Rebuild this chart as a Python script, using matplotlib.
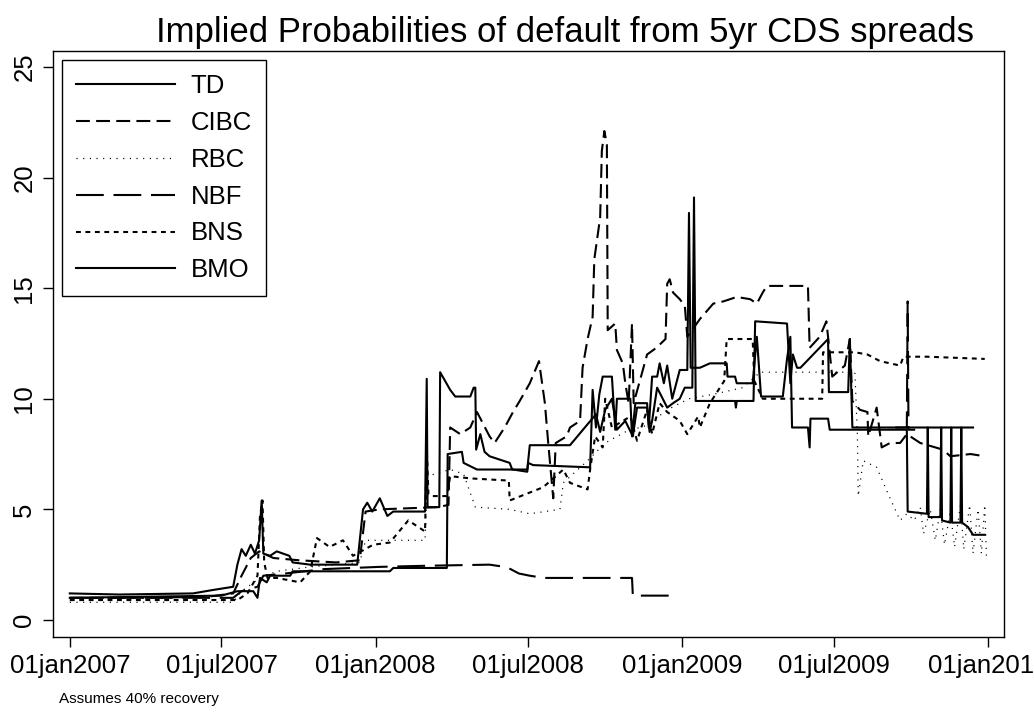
import numpy as np
import pandas as pd
import matplotlib
matplotlib.use("Agg")
import matplotlib.pyplot as plt

plt.rcParams['font.family'] = ['Liberation Sans', 'DejaVu Sans']
plt.rcParams['lines.scale_dashes'] = False

# ---- data (implied PD, %) ----
td_dates = ['2007-01-01', '2007-03-01', '2007-05-28', '2007-06-20', '2007-07-15', '2007-07-20',
            '2007-07-25', '2007-07-30', '2007-08-05', '2007-08-10', '2007-08-15', '2007-08-18',
            '2007-08-20', '2007-08-28', '2007-09-05', '2007-09-20', '2007-09-24', '2007-10-15',
            '2007-12-10', '2007-12-17', '2007-12-22', '2007-12-28', '2008-01-06', '2008-01-15',
            '2008-01-22', '2008-02-29', '2008-03-02', '2008-03-03', '2008-03-17', '2008-03-18',
            '2008-03-24', '2008-03-30', '2008-04-05', '2008-04-23', '2008-04-27', '2008-04-29',
            '2008-04-30', '2008-05-05', '2008-05-10', '2008-05-16', '2008-06-09', '2008-06-12',
            '2008-06-30', '2008-07-03', '2008-08-20', '2008-09-20', '2008-09-25', '2008-10-01',
            '2008-10-09', '2008-10-15', '2008-10-25', '2008-11-03', '2008-11-08', '2008-11-20',
            '2008-11-23', '2008-11-26', '2008-12-02', '2008-12-14', '2008-12-21', '2008-12-29',
            '2009-01-04', '2009-01-13', '2009-01-15', '2009-01-17', '2009-03-05', '2009-03-06',
            '2009-03-07', '2009-03-27', '2009-03-29', '2009-05-06', '2009-05-10', '2009-05-13',
            '2009-05-18', '2009-05-22', '2009-06-24', '2009-06-25', '2009-07-18', '2009-07-20',
            '2009-07-23', '2009-12-14']
td_vals = [1.2, 1.15, 1.2, 1.35, 1.5, 2.5,
           3.2, 2.9, 3.4, 3.0, 3.6, 5.4,
           3.0, 2.9, 3.1, 2.9, 2.6, 2.5,
           2.5, 5.0, 5.3, 4.9, 5.5, 4.7,
           4.9, 4.9, 10.9, 5.1, 5.1, 11.2,
           10.8, 10.4, 10.1, 10.1, 10.5, 10.5,
           7.7, 8.4, 7.6, 7.4, 7.1, 6.8,
           6.8, 7.9, 7.9, 9.3, 8.5, 9.5,
           10.0, 8.6, 9.0, 8.3, 9.6, 9.6,
           8.5, 9.0, 10.5, 9.6, 9.8, 10.0,
           10.5, 10.5, 19.1, 9.9, 9.9, 9.6,
           9.9, 9.9, 13.5, 13.4, 10.7, 12.0,
           11.4, 11.4, 12.7, 10.3, 10.3, 12.7,
           8.7, 8.7]

cibc_dates = ['2007-01-01', '2007-04-01', '2007-06-15', '2007-07-15', '2007-07-25', '2007-08-05',
              '2007-08-15', '2007-09-01', '2007-10-01', '2007-11-15', '2007-12-13', '2007-12-20',
              '2008-01-06', '2008-03-15', '2008-03-28', '2008-03-30', '2008-04-11', '2008-04-23',
              '2008-05-01', '2008-05-16', '2008-05-22', '2008-06-03', '2008-06-13', '2008-06-21',
              '2008-07-03', '2008-07-14', '2008-07-21', '2008-07-25', '2008-07-31', '2008-08-03',
              '2008-08-16', '2008-08-20', '2008-09-01', '2008-09-04', '2008-09-10', '2008-09-16',
              '2008-09-18', '2008-09-25', '2008-09-27', '2008-09-30', '2008-10-03', '2008-10-04',
              '2008-10-13', '2008-10-15', '2008-10-22', '2008-10-25', '2008-10-29', '2008-11-02',
              '2008-11-04', '2008-11-20', '2008-12-01', '2008-12-12', '2008-12-14', '2008-12-17',
              '2008-12-21', '2008-12-29', '2009-01-04', '2009-01-07', '2009-01-22', '2009-02-07',
              '2009-02-19', '2009-03-07', '2009-03-23', '2009-03-31', '2009-04-07', '2009-04-12',
              '2009-05-31', '2009-06-02', '2009-06-14', '2009-06-22', '2009-06-29', '2009-07-14',
              '2009-07-20', '2009-07-23', '2009-08-01', '2009-08-10', '2009-08-11', '2009-08-21',
              '2009-08-27', '2009-09-06', '2009-09-18', '2009-09-26', '2009-10-12', '2009-11-08',
              '2009-11-17', '2009-12-11', '2009-12-28']
cibc_vals = [1.0, 1.0, 1.05, 1.2, 2.0, 2.8,
             3.1, 2.8, 2.7, 2.6, 2.7, 4.9,
             5.0, 5.1, 5.2, 8.7, 8.4, 8.7,
             9.4, 8.3, 8.0, 8.7, 9.4, 9.9,
             10.7, 11.7, 9.8, 8.0, 5.5, 8.0,
             8.3, 8.7, 9.0, 11.4, 12.7, 13.7,
             16.3, 18.2, 21.2, 22.1, 21.5, 13.1,
             13.4, 12.2, 11.6, 10.7, 9.8, 13.4,
             9.8, 12.0, 12.3, 12.7, 15.2, 15.4,
             14.8, 14.5, 14.2, 12.8, 13.6, 14.3,
             14.4, 14.6, 14.5, 14.3, 14.8, 15.1,
             15.1, 12.3, 12.8, 13.5, 11.0, 11.5,
             12.7, 9.9, 9.5, 9.4, 8.3, 9.6,
             7.8, 8.0, 8.0, 8.4, 8.0, 7.7,
             7.4, 7.5, 7.4]

rbc_dates = ['2007-01-01', '2007-07-15', '2007-07-25', '2007-08-16', '2007-09-05', '2007-10-15',
             '2007-11-15', '2007-12-13', '2007-12-20', '2008-02-29', '2008-03-03', '2008-03-30',
             '2008-04-15', '2008-04-29', '2008-06-09', '2008-07-03', '2008-08-08', '2008-08-12',
             '2008-09-10', '2008-10-01', '2008-10-25', '2008-11-20', '2008-12-14', '2009-01-09',
             '2009-02-07', '2009-03-14', '2009-04-04', '2009-07-26', '2009-07-29', '2009-07-30',
             '2009-08-05', '2009-08-21', '2009-09-06', '2009-09-18', '2009-09-26', '2009-10-05',
             '2009-10-12', '2009-10-16', '2009-10-24', '2009-10-30', '2009-11-05', '2009-11-10',
             '2009-11-17', '2009-11-22', '2009-11-29', '2009-12-03', '2009-12-10', '2009-12-14',
             '2009-12-20', '2009-12-24', '2009-12-28', '2009-12-30']
rbc_vals = [0.8, 0.8, 1.3, 1.9, 2.2, 2.4,
            2.5, 2.6, 3.6, 3.6, 6.5, 6.8,
            6.6, 5.1, 5.0, 4.8, 5.0, 6.2,
            7.2, 8.0, 8.5, 8.8, 9.5, 10.0,
            10.2, 10.5, 11.2, 11.2, 8.4, 5.6,
            7.2, 6.9, 5.5, 4.5, 4.8, 4.5,
            5.1, 3.9, 5.0, 3.6, 5.0, 3.4,
            4.9, 3.3, 5.2, 3.2, 5.2, 3.0,
            5.0, 3.0, 5.2, 2.9]

nbf_dates = ['2007-01-01', '2007-07-15', '2007-07-25', '2007-08-13', '2007-08-20', '2007-09-15',
             '2007-11-01', '2008-01-06', '2008-03-01', '2008-05-16', '2008-06-03', '2008-06-10',
             '2008-06-20', '2008-07-03', '2008-07-20', '2008-11-02', '2008-11-03', '2008-12-17',
             '2009-06-01', '2009-09-12', '2009-09-26', '2009-09-27', '2009-09-28', '2009-10-06']
nbf_vals = [1.0, 1.0, 1.3, 1.5, 2.0, 2.1,
            2.3, 2.4, 2.45, 2.5, 2.4, 2.3,
            2.1, 2.0, 1.9, 1.9, 1.1, 1.1,
            np.nan, 8.7, 8.7, 14.4, 8.6, 8.6]

bns_dates = ['2007-01-01', '2007-07-20', '2007-08-01', '2007-08-13', '2007-08-16', '2007-08-19',
             '2007-08-21', '2007-08-25', '2007-09-05', '2007-10-03', '2007-10-15', '2007-10-23',
             '2007-11-07', '2007-11-23', '2007-12-05', '2007-12-29', '2008-01-18', '2008-02-09',
             '2008-02-29', '2008-03-02', '2008-03-04', '2008-03-08', '2008-03-26', '2008-03-30',
             '2008-04-23', '2008-06-08', '2008-06-09', '2008-07-19', '2008-08-12', '2008-08-20',
             '2008-09-10', '2008-09-13', '2008-09-19', '2008-09-28', '2008-10-01', '2008-10-09',
             '2008-10-31', '2008-11-08', '2008-11-20', '2008-11-26', '2008-12-05', '2008-12-14',
             '2008-12-29', '2009-01-07', '2009-01-20', '2009-01-22', '2009-02-03', '2009-02-20',
             '2009-02-23', '2009-03-26', '2009-03-28', '2009-04-07', '2009-06-17', '2009-06-18',
             '2009-07-26', '2009-08-10', '2009-08-25', '2009-09-18', '2009-09-22', '2009-10-20',
             '2009-12-28']
bns_vals = [0.9, 0.9, 1.2, 2.0, 4.7, 5.4,
            2.6, 1.9, 1.9, 1.7, 2.2, 3.7,
            3.3, 3.6, 2.9, 3.4, 3.5, 4.5,
            4.0, 7.8, 5.7, 5.6, 5.6, 6.5,
            6.4, 6.3, 5.4, 6.0, 6.8, 6.2,
            5.9, 6.8, 8.3, 7.8, 10.0, 8.7,
            9.2, 8.1, 9.5, 8.4, 9.8, 9.4,
            9.0, 8.4, 9.2, 8.7, 9.8, 10.8,
            12.7, 12.7, 10.8, 10.0, 10.0, 12.1,
            12.1, 12.0, 11.7, 11.5, 11.9, 11.9,
            11.8]

bmo_dates = ['2007-01-01', '2007-04-01', '2007-07-01', '2007-07-20', '2007-08-08', '2007-08-13',
             '2007-08-16', '2007-08-24', '2007-08-28', '2007-09-21', '2007-09-24', '2008-01-18',
             '2008-01-22', '2008-03-26', '2008-03-27', '2008-04-13', '2008-04-15', '2008-05-01',
             '2008-06-13', '2008-06-30', '2008-07-01', '2008-07-07', '2008-09-13', '2008-09-16',
             '2008-09-20', '2008-09-24', '2008-09-28', '2008-10-09', '2008-10-13', '2008-10-15',
             '2008-10-31', '2008-11-02', '2008-11-06', '2008-11-20', '2008-11-22', '2008-11-26',
             '2008-12-02', '2008-12-05', '2008-12-10', '2008-12-14', '2008-12-20', '2008-12-29',
             '2009-01-07', '2009-01-09', '2009-01-11', '2009-01-22', '2009-02-03', '2009-02-23',
             '2009-02-24', '2009-03-05', '2009-03-07', '2009-03-26', '2009-03-31', '2009-04-05',
             '2009-05-01', '2009-05-06', '2009-05-10', '2009-05-12', '2009-05-31', '2009-06-02',
             '2009-06-03', '2009-06-24', '2009-06-26', '2009-09-26', '2009-09-27', '2009-10-20',
             '2009-10-21', '2009-10-22', '2009-11-05', '2009-11-06', '2009-11-07', '2009-11-17',
             '2009-11-18', '2009-11-19', '2009-11-29', '2009-11-30', '2009-12-01', '2009-12-08',
             '2009-12-14', '2009-12-28']
bmo_vals = [1.0, 1.05, 1.1, 1.3, 1.3, 1.0,
            1.9, 1.7, 2.0, 2.0, 2.2, 2.2,
            2.35, 2.35, 7.5, 7.6, 7.1, 6.8,
            6.8, 6.7, 7.1, 7.0, 6.9, 10.4,
            8.7, 10.2, 11.0, 11.0, 8.6, 10.0,
            10.0, 8.3, 9.8, 9.8, 8.7, 11.0,
            11.0, 11.6, 10.7, 11.5, 10.0, 11.3,
            11.3, 18.4, 11.4, 11.4, 11.6, 11.6,
            11.0, 11.0, 10.7, 10.7, 12.8, 10.1,
            10.1, 11.8, 12.8, 8.7, 8.7, 7.8,
            9.1, 9.1, 8.6, 8.6, 4.9, 4.8,
            8.7, 4.65, 4.65, 8.7, 4.5, 4.4,
            8.7, 4.4, 4.4, 8.7, 4.4, 4.2,
            3.85, 3.85]

series = [
    ('TD', td_dates, td_vals, '-', 1.5),
    ('CIBC', cibc_dates, cibc_vals, (0, (10, 4.5)), 1.5),
    ('RBC', rbc_dates, rbc_vals, (0, (0.8, 4)), 0.9),
    ('NBF', nbf_dates, nbf_vals, (0, (20, 7)), 1.5),
    ('BNS', bns_dates, bns_vals, (0, (3.5, 3.3)), 1.5),
    ('BMO', bmo_dates, bmo_vals, '-', 1.5),
]

tick_dates = ['2007-01-01', '2007-07-01', '2008-01-01', '2008-07-01', '2009-01-01', '2009-07-01', '2010-01-01']
tick_labels = ['01jan2007', '01jul2007', '01jan2008', '01jul2008', '01jan2009', '01jul2009', '01jan2010']

fig = plt.figure(figsize=(10.34, 7.13), dpi=100)
ax = fig.add_axes([0.0513, 0.1066, 0.9197, 0.8219])

for name, d, v, ls, lw in series:
    ax.plot(pd.to_datetime(d), v, color='black', ls=ls, lw=lw, label=name)

ax.set_xlim(pd.Timestamp('2006-12-12'), pd.Timestamp('2010-01-20'))
ax.set_ylim(-0.77, 25.72)
ax.set_xticks(pd.to_datetime(tick_dates))
ax.set_xticklabels(tick_labels)
ax.set_yticks([0, 5, 10, 15, 20, 25])
ax.tick_params(axis='both', direction='out', length=7, width=1, labelsize=18.5)
ax.tick_params(axis='x', pad=5)
ax.tick_params(axis='y', pad=5)
for lab in ax.get_yticklabels():
    lab.set_rotation(90)
    lab.set_va('center')
for s in ax.spines.values():
    s.set_linewidth(1.0)

leg = ax.legend(loc='upper left', fontsize=18.5, handlelength=3.85, handletextpad=0.6,
                labelspacing=0.5, borderaxespad=0.35, borderpad=0.55, fancybox=False,
                edgecolor='black', framealpha=1)
leg.get_frame().set_linewidth(1.0)

fig.text(0.546, 0.955, 'Implied Probabilities of default from 5yr CDS spreads',
         ha='center', va='center', fontsize=25)
fig.text(0.057, 0.010, 'Assumes 40% recovery', ha='left', va='bottom', fontsize=11)

fig.savefig('out.png', dpi=100)
